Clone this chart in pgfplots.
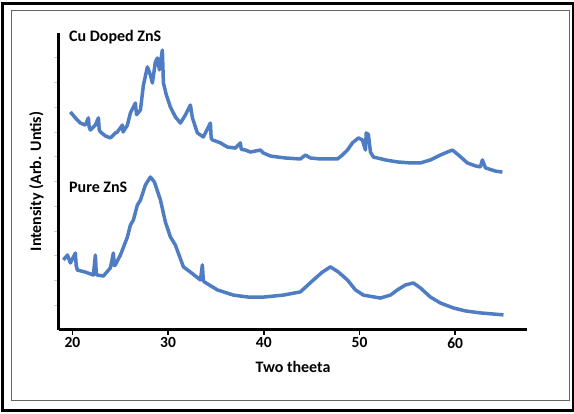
\documentclass[border=0pt]{standalone}
\usepackage{pgfplots}
\pgfplotsset{compat=1.18}
\usepackage{fontspec}
\setmainfont{Carlito}

\definecolor{xrdBlue}{RGB}{70,118,192}

\begin{document}
\begin{tikzpicture}
% page size = reference, 1pt ~ 1px
\useasboundingbox (-59pt,-84pt) rectangle (515pt,330pt);
\draw[line width=3pt, black] (-56pt,-81pt) rectangle (514pt,326pt);
\draw[line width=0.8pt, gray!80!black] (-48pt,-70pt) rectangle (510pt,320pt);

\begin{axis}[
    scale only axis,
    width  = 468pt,
    height = 297pt,
    xmin = 18.6, xmax = 67.5,
    ymin = 0, ymax = 12,
    axis x line = bottom,
    axis y line = left,
    axis line style = {-, line width=3pt, black},
    xtick = {20,30,40,50,60},
    ytick = {1,2,...,11},
    yticklabels = {},
    /pgf/number format/assume math mode=true,
    xticklabel style = {font=\fontsize{15.5}{17}\selectfont\bfseries, yshift=1pt},
    x tick style = {black, line width=1.5pt},
    y tick style = {gray!40, line width=0.8pt},
    major tick length = 5pt,
    tick align = outside,
    xlabel = {Two theeta},
    xlabel style = {font=\fontsize{16}{18}\selectfont\bfseries, yshift=-6pt},
    ylabel = {Intensity (Arb. Untis)},
    ylabel style = {font=\fontsize{16}{18}\selectfont\bfseries, yshift=0pt},
    clip = false,
]

% Cu doped ZnS
\addplot[xrdBlue, line width=3.5pt, line join=round, opacity=0.95] coordinates {
(19.79,8.81)(20.31,8.57)(20.84,8.36)(21.36,8.28)(21.67,8.57)(21.75,8.20)
(21.88,8.08)(22.40,8.28)(22.72,8.57)(22.80,8.10)(22.93,8.00)(23.45,7.84)
(23.97,7.76)(24.49,7.96)(24.70,8.00)(25.22,8.28)(25.30,8.00)(25.75,8.28)
(26.06,8.77)(26.58,9.17)(26.70,8.70)(27.11,8.89)(27.42,9.90)(27.84,10.63)
(28.15,10.30)(28.36,9.98)(28.67,10.83)(28.88,10.99)(29.09,10.51)(29.40,11.31)
(29.51,9.98)(29.82,9.49)(30.24,9.01)(30.76,8.61)(31.29,8.36)(31.81,8.69)
(32.33,9.09)(32.54,8.57)(33.06,7.96)(33.69,7.80)(34.42,8.36)(34.50,7.75)
(34.63,7.68)(35.47,7.56)(36.20,7.39)(37.03,7.35)(37.55,7.56)(37.65,7.30)
(38.08,7.27)(38.60,7.19)(39.64,7.27)(39.96,7.15)(40.69,7.03)(41.42,6.99)
(42.26,6.95)(43.82,6.91)(44.35,7.07)(44.87,6.95)(45.91,6.91)(47.69,6.91)
(48.21,7.07)(48.74,7.27)(49.26,7.56)(49.89,7.76)(50.30,7.68)(50.62,7.27)
(50.70,7.96)(50.93,7.90)(51.14,7.19)(51.45,6.99)(52.71,6.87)(53.96,6.79)
(55.32,6.75)(56.36,6.75)(57.41,6.87)(58.45,7.07)(59.18,7.19)(59.71,7.27)
(60.34,7.07)(61.27,6.75)(62.11,6.63)(62.63,6.59)(62.84,6.87)(63.16,6.55)
(64.20,6.42)(64.93,6.38)
};

% Pure ZnS
\addplot[xrdBlue, line width=3.5pt, line join=round, opacity=0.95] coordinates {
(19.06,2.83)(19.48,3.03)(19.79,2.71)(20.31,3.11)(20.40,2.60)(20.52,2.42)
(21.36,2.34)(22.19,2.22)(22.40,3.03)(22.50,2.25)(22.61,2.22)(23.24,2.18)
(23.97,2.51)(24.28,3.11)(24.38,2.60)(24.49,2.63)(25.02,3.03)(25.75,3.76)
(26.06,4.24)(26.37,4.44)(26.79,5.05)(27.11,5.25)(27.63,5.86)(28.15,6.18)
(28.57,5.98)(29.20,5.25)(29.72,4.36)(30.24,3.76)(30.76,3.43)(31.60,2.55)
(32.33,2.34)(33.38,2.02)(33.58,2.63)(33.68,2.00)(33.79,1.94)(35.15,1.62)
(36.82,1.41)(38.39,1.33)(39.96,1.33)(42.05,1.41)(43.82,1.54)(45.18,2.02)
(46.12,2.34)(46.96,2.55)(47.80,2.34)(48.74,2.02)(49.57,1.62)(50.41,1.41)
(52.18,1.29)(53.23,1.41)(53.96,1.62)(54.80,1.82)(55.63,1.90)(56.36,1.70)
(57.41,1.33)(58.45,1.09)(59.81,0.89)(61.07,0.77)(62.63,0.69)(65.04,0.61)
};

\node[anchor=west, font=\fontsize{16}{18}\selectfont\bfseries] at (axis cs:19.3,11.84) {Cu Doped ZnS};
\node[anchor=west, font=\fontsize{16}{18}\selectfont\bfseries] at (axis cs:19.3,5.78) {Pure ZnS};
\end{axis}
\end{tikzpicture}
\end{document}
